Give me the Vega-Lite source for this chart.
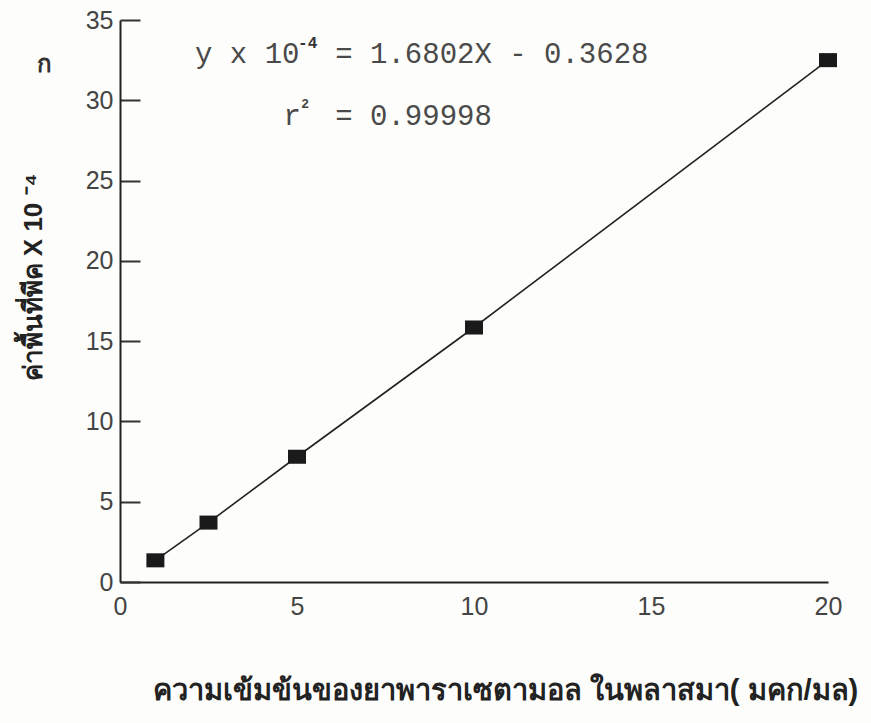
{
  "$schema": "https://vega.github.io/schema/vega-lite/v6.json",
  "width": 708,
  "height": 562,
  "autosize": {"type": "none"},
  "padding": {"left": 120, "top": 20, "right": 43, "bottom": 141},
  "background": "#fdfdfb",
  "config": {
    "view": {"stroke": null},
    "axis": {"grid": false}
  },
  "datasets": {
    "pts": [
      {"conc": 1, "area": 1.35},
      {"conc": 2.5, "area": 3.7},
      {"conc": 5, "area": 7.8},
      {"conc": 10, "area": 15.85},
      {"conc": 20, "area": 32.5}
    ],
    "eqMain": [
      {"label": "y x 10", "x": 2.12, "y": 32.32},
      {"label": "= 1.6802X - 0.3628", "x": 6.08, "y": 32.32},
      {"label": "r", "x": 4.62, "y": 28.46},
      {"label": "= 0.99998", "x": 6.08, "y": 28.46}
    ],
    "eqSup4": [
      {"label": "-4", "x": 5.03, "y": 33.26}
    ],
    "eqSup2": [
      {"label": "2", "x": 5.12, "y": 29.52}
    ],
    "corner": [
      {"label": "ก", "x": -2.12, "y": 32.2}
    ]
  },
  "layer": [
    {
      "data": {"name": "pts"},
      "mark": {"type": "line", "color": "#222222", "strokeWidth": 1.6},
      "encoding": {
        "x": {
          "field": "conc", "type": "quantitative",
          "scale": {"domain": [0, 20], "nice": false},
          "axis": {
            "values": [0, 5, 10, 15, 20],
            "ticks": false,
            "labelFont": "Liberation Sans",
            "labelFontSize": 25,
            "labelColor": "#444444",
            "labelPadding": 12,
            "labelFlush": false,
            "domainColor": "#222222",
            "domainWidth": 2,
            "title": "ความเข้มข้นของยาพาราเซตามอล ในพลาสมา( มคก/มล)",
            "titleFontSize": 29,
            "titleFontWeight": "bold",
            "titleColor": "#222222",
            "titleX": 385,
            "titleY": 108,
            "titleAlign": "center",
            "titleBaseline": "middle"
          }
        },
        "y": {
          "field": "area", "type": "quantitative",
          "scale": {"domain": [0, 35], "nice": false},
          "axis": {
            "values": [0, 5, 10, 15, 20, 25, 30, 35],
            "tickSize": -20,
            "tickWidth": 2,
            "tickColor": "#333333",
            "labelFont": "Liberation Sans",
            "labelFontSize": 25,
            "labelColor": "#444444",
            "labelPadding": 27,
            "domainColor": "#222222",
            "domainWidth": 2,
            "title": "ค่าพื้นที่พีค  X  10 ⁻⁴",
            "titleFontSize": 26,
            "titleFontWeight": "bold",
            "titleColor": "#222222",
            "titleX": -87,
            "titleY": 257,
            "titleAngle": 270,
            "titleAlign": "center",
            "titleBaseline": "middle"
          }
        }
      }
    },
    {
      "data": {"name": "pts"},
      "mark": {"type": "point", "shape": "M-1,-0.78H1V0.78H-1Z", "filled": true, "color": "#1a1a1a", "opacity": 1, "size": 324},
      "encoding": {
        "x": {"field": "conc", "type": "quantitative"},
        "y": {"field": "area", "type": "quantitative"}
      }
    },
    {
      "data": {"name": "eqMain"},
      "mark": {"type": "text", "font": "Liberation Mono", "fontSize": 29, "align": "left", "baseline": "alphabetic", "color": "#4a4a4a"},
      "encoding": {
        "x": {"field": "x", "type": "quantitative"},
        "y": {"field": "y", "type": "quantitative"},
        "text": {"field": "label"}
      }
    },
    {
      "data": {"name": "eqSup4"},
      "mark": {"type": "text", "font": "Liberation Mono", "fontSize": 16, "fontWeight": "bold", "align": "left", "baseline": "alphabetic", "color": "#333333"},
      "encoding": {
        "x": {"field": "x", "type": "quantitative"},
        "y": {"field": "y", "type": "quantitative"},
        "text": {"field": "label"}
      }
    },
    {
      "data": {"name": "eqSup2"},
      "mark": {"type": "text", "font": "Liberation Mono", "fontSize": 13, "fontWeight": "bold", "align": "left", "baseline": "alphabetic", "color": "#444444"},
      "encoding": {
        "x": {"field": "x", "type": "quantitative"},
        "y": {"field": "y", "type": "quantitative"},
        "text": {"field": "label"}
      }
    },
    {
      "data": {"name": "corner"},
      "mark": {"type": "text", "fontSize": 24, "fontWeight": "bold", "align": "center", "baseline": "middle", "color": "#333333"},
      "encoding": {
        "x": {"field": "x", "type": "quantitative"},
        "y": {"field": "y", "type": "quantitative"},
        "text": {"field": "label"}
      }
    }
  ]
}
